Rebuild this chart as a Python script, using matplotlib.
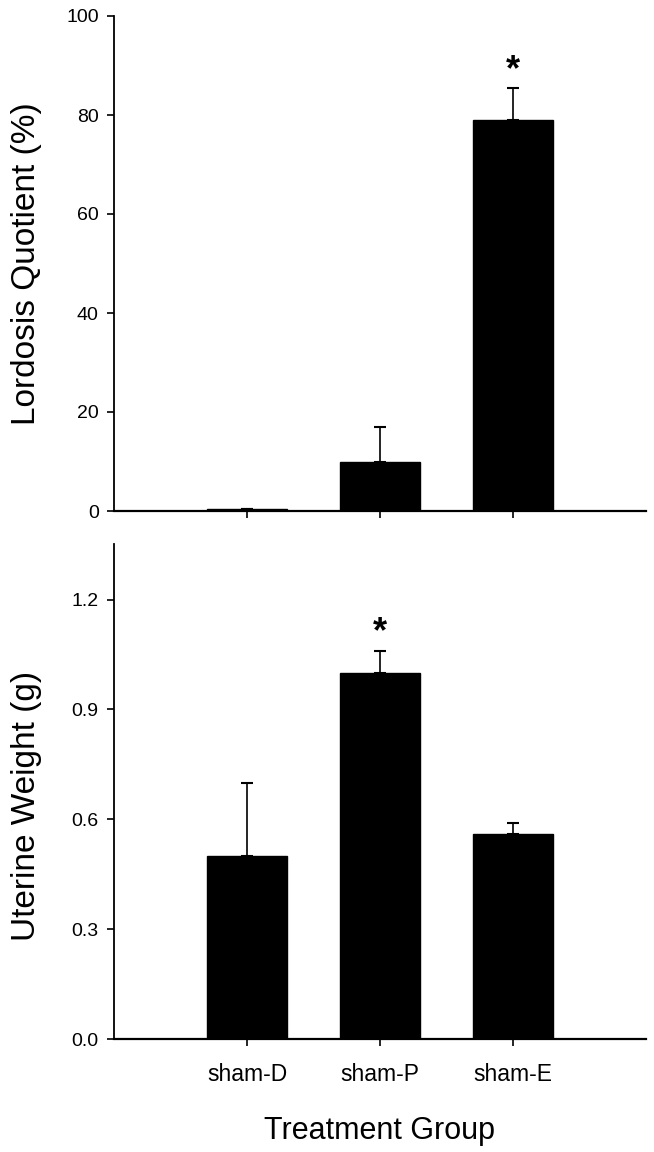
import numpy as np
import matplotlib
matplotlib.use("Agg")
import matplotlib.pyplot as plt

plt.rcParams['font.family'] = ['Liberation Sans', 'DejaVu Sans']

groups = ['sham-D', 'sham-P', 'sham-E']
lordosis = [0.5, 10.0, 79.0]
lordosis_err = [0.0, 7.0, 6.4]
uterine = [0.50, 1.00, 0.56]
uterine_err = [0.20, 0.06, 0.03]
sig_lordosis = [False, False, True]
sig_uterine = [False, True, False]

x = np.arange(len(groups))

fig = plt.figure(figsize=(6.54, 11.52), dpi=100)
# axes boxes in pixels of the 654x1152 canvas
ax1 = fig.add_axes([114/654, 1 - 511/1152, 532/654, 495/1152])
ax2 = fig.add_axes([114/654, 1 - 1039/1152, 532/654, 495/1152])


def draw(ax, vals, errs, sig, ylim, ticks, fmt, label, label_y):
    ax.bar(x, vals, width=0.6, color='black', edgecolor='black', zorder=2)
    ax.errorbar(x, vals, yerr=[np.zeros(len(vals)), errs], fmt='none',
                ecolor='black', elinewidth=1.2, capsize=4, capthick=1.5, zorder=1)
    for i, s in enumerate(sig):
        if s:
            ax.annotate('*', xy=(x[i], vals[i] + errs[i]), xytext=(0, 6),
                        textcoords='offset points', ha='center', va='baseline',
                        fontsize=26, fontweight='bold')
    ax.set_xlim(-1, 3)
    ax.set_ylim(*ylim)
    ax.set_yticks(ticks)
    ax.set_yticklabels([fmt.format(t) for t in ticks])
    ax.set_xticks(x)
    for s in ['top', 'right']:
        ax.spines[s].set_visible(False)
    ax.spines['left'].set_linewidth(1.3)
    ax.spines['bottom'].set_linewidth(1.6)
    ax.tick_params(axis='y', direction='out', length=5, width=1.2, pad=6, labelsize=14)
    ax.tick_params(axis='x', direction='out', length=5, width=1.2)
    ax.set_ylabel(label, fontsize=24, va='center')
    ax.yaxis.set_label_coords(-0.165, label_y)


draw(ax1, lordosis, lordosis_err, sig_lordosis, (0, 100), [0, 20, 40, 60, 80, 100],
     '{:.0f}', 'Lordosis Quotient (%)', 0.5)
ax1.set_xticklabels([])

draw(ax2, uterine, uterine_err, sig_uterine, (0, 1.352), [0.0, 0.3, 0.6, 0.9, 1.2],
     '{:.1f}', 'Uterine Weight (g)', 0.47)
ax2.set_xticklabels(groups, fontsize=16.5)
ax2.tick_params(axis='x', pad=12)
ax2.set_xlabel('Treatment Group', fontsize=22, labelpad=22)

fig.savefig('out.png', dpi=100)
